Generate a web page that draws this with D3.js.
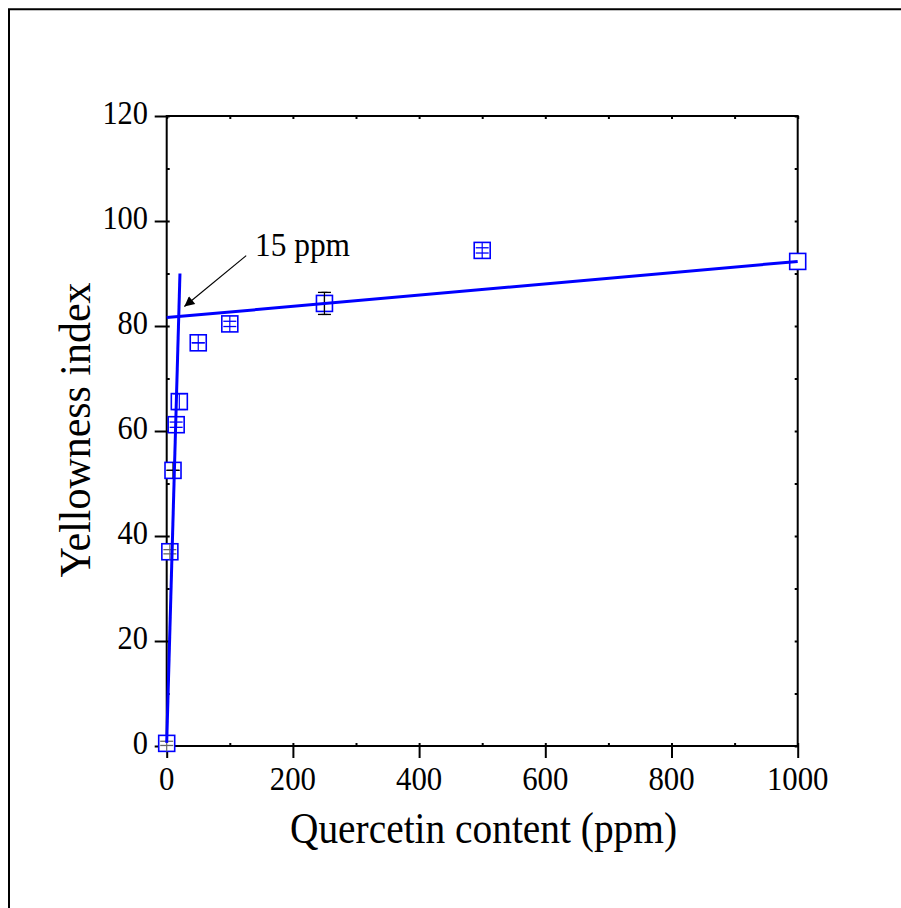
<!DOCTYPE html>
<html>
<head>
<meta charset="utf-8">
<script src="https://cdn.jsdelivr.net/npm/d3@7"></script>
<style>
  html, body { margin: 0; padding: 0; background: #fff; }
  svg { display: block; }
  text { font-family: "Liberation Serif", "Times New Roman", serif; fill: #000; }
</style>
</head>
<body>
<svg id="chart" width="901" height="908"></svg>
<script>
// ---- data ----
const ppm        = [0, 5, 10, 15, 20, 50, 100, 250, 500, 1000];
const yellowness = [0.5, 37.0, 52.5, 61.2, 65.6, 76.8, 80.4, 84.3, 94.4, 92.3];
const yErr       = [0.4, 0.4, 0, 0.5, 1.5, 0, 0.5, 2.1, 0.5, null];
const errColor   = ["#666", "#666", "#000", "#0000ff", "#0000ff", "#0000ff", "#0000ff", "#000", "#0000ff", null];
const fitLow     = [[0, 0.6], [21, 90]];      // steep fit line
const fitHigh    = [[0, 81.6], [1000, 92.3]]; // plateau fit line
const annotText  = "15 ppm";
const annotPos   = [140, 93.3];
const arrowFrom  = [126, 93.4];
const arrowTo    = [28, 83.7];
const xTicks     = [0, 200, 400, 600, 800, 1000];
const yTicks     = [0, 20, 40, 60, 80, 100, 120];
const xMinor     = d3.range(0, 1001, 100);
const yMinor     = d3.range(0, 121, 10);
const xTitle     = "Quercetin content (ppm)";
const yTitle     = "Yellowness index";

// ---- layout ----
const svg = d3.select("#chart");
const x = d3.scaleLinear().domain([0, 1000]).range([166.7, 797.7]);
const y = d3.scaleLinear().domain([0, 120]).range([746, 116]);
const blue = "#0000ff";

// outer frame
svg.append("path")
  .attr("d", "M9,912 V9.3 H905")
  .attr("fill", "none").attr("stroke", "#000").attr("stroke-width", 2);

const tickStyle = g => {
  g.select(".domain").remove();
  g.selectAll(".tick line").attr("stroke", "#000").attr("stroke-width", 2);
  g.selectAll(".tick text").remove();
};
svg.append("g").attr("transform", `translate(0,${y(0)})`)
  .call(d3.axisBottom(x).tickValues(xTicks).tickSize(12)).call(tickStyle);
svg.append("g").attr("transform", `translate(${x(0)},0)`)
  .call(d3.axisLeft(y).tickValues(yTicks).tickSize(12)).call(tickStyle);
svg.append("g").attr("transform", `translate(0,${y(0)})`)
  .call(d3.axisBottom(x).tickValues(xMinor).tickSize(-3)).call(tickStyle);
svg.append("g").attr("transform", `translate(0,${y(120)})`)
  .call(d3.axisTop(x).tickValues(xMinor).tickSize(-3)).call(tickStyle);
svg.append("g").attr("transform", `translate(${x(0)},0)`)
  .call(d3.axisLeft(y).tickValues(yMinor).tickSize(-3)).call(tickStyle);
svg.append("g").attr("transform", `translate(${x(1000)},0)`)
  .call(d3.axisRight(y).tickValues(yMinor).tickSize(-3)).call(tickStyle);
svg.append("rect")
  .attr("x", x(0)).attr("y", y(120))
  .attr("width", x(1000) - x(0)).attr("height", y(0) - y(120))
  .attr("fill", "none").attr("stroke", "#000").attr("stroke-width", 2);

// tick labels
svg.append("g").selectAll("text").data(xTicks).join("text")
  .attr("x", d => x(d)).attr("y", 790)
  .attr("text-anchor", "middle").attr("font-size", 33)
  .attr("textLength", d => String(d).length * 15.4)
  .attr("lengthAdjust", "spacingAndGlyphs")
  .text(d => d);
svg.append("g").selectAll("text").data(yTicks).join("text")
  .attr("x", 148).attr("y", d => y(d) + 7.5)
  .attr("text-anchor", "end").attr("font-size", 33)
  .attr("textLength", d => String(d).length * 15.2)
  .attr("lengthAdjust", "spacingAndGlyphs")
  .text(d => d);

// axis titles
svg.append("text")
  .attr("x", 483.5).attr("y", 843)
  .attr("text-anchor", "middle").attr("font-size", 44)
  .attr("textLength", 387).attr("lengthAdjust", "spacingAndGlyphs")
  .text(xTitle);
svg.append("text")
  .attr("transform", "translate(90,430) rotate(-90)")
  .attr("text-anchor", "middle").attr("font-size", 44)
  .attr("textLength", 295).attr("lengthAdjust", "spacingAndGlyphs")
  .text(yTitle);

// data points
const pts = ppm.map((p, i) => ({p, v: yellowness[i], e: yErr[i], c: errColor[i]}));
const half = 8;
const pg = svg.append("g").selectAll("g").data(pts).join("g")
  .attr("transform", d => `translate(${x(d.p)},${y(d.v)})`);
pg.append("rect")
  .attr("x", -half).attr("y", -half).attr("width", 2 * half).attr("height", 2 * half)
  .attr("fill", "#fff").attr("stroke", blue).attr("stroke-width", 1.6);
pg.filter(d => d.e !== null).append("line")
  .attr("x1", 0).attr("x2", 0).attr("y1", -half).attr("y2", half)
  .attr("stroke", d => d.c).attr("stroke-width", 1.2);
pg.filter(d => d.e !== null).each(function(d) {
  const g = d3.select(this);
  const dy = y(0) - y(d.e);
  [-dy, dy].forEach(o => {
    g.append("line")
      .attr("x1", -6.5).attr("x2", 6.5).attr("y1", o).attr("y2", o)
      .attr("stroke", d.c).attr("stroke-width", 1.3);
  });
  if (dy > half) {
    g.append("line").attr("x1", 0).attr("x2", 0).attr("y1", -dy).attr("y2", dy)
      .attr("stroke", d.c).attr("stroke-width", 1.2);
    [-dy, dy].forEach(o => g.append("line")
      .attr("x1", -3).attr("x2", 3).attr("y1", o).attr("y2", o)
      .attr("stroke", d.c).attr("stroke-width", 1.2));
  }
});

// fit lines
const line = d3.line().x(d => x(d[0])).y(d => y(d[1]));
[fitLow, fitHigh].forEach(f => svg.append("path")
  .attr("d", line(f)).attr("fill", "none")
  .attr("stroke", blue).attr("stroke-width", 3));

// annotation
svg.append("defs").append("marker")
  .attr("id", "arr").attr("viewBox", "0 0 10 10")
  .attr("refX", 10).attr("refY", 5)
  .attr("markerWidth", 15).attr("markerHeight", 10)
  .attr("markerUnits", "userSpaceOnUse")
  .attr("orient", "auto")
  .append("path").attr("d", "M0,0 L10,5 L0,10 Z").attr("fill", "#000");
svg.append("line")
  .attr("x1", x(arrowFrom[0])).attr("y1", y(arrowFrom[1]))
  .attr("x2", x(arrowTo[0])).attr("y2", y(arrowTo[1]))
  .attr("stroke", "#000").attr("stroke-width", 1.2)
  .attr("marker-end", "url(#arr)");
svg.append("text")
  .attr("x", x(annotPos[0])).attr("y", y(annotPos[1]))
  .attr("font-size", 33)
  .attr("textLength", 95).attr("lengthAdjust", "spacingAndGlyphs")
  .text(annotText);
</script>
</body>
</html>
